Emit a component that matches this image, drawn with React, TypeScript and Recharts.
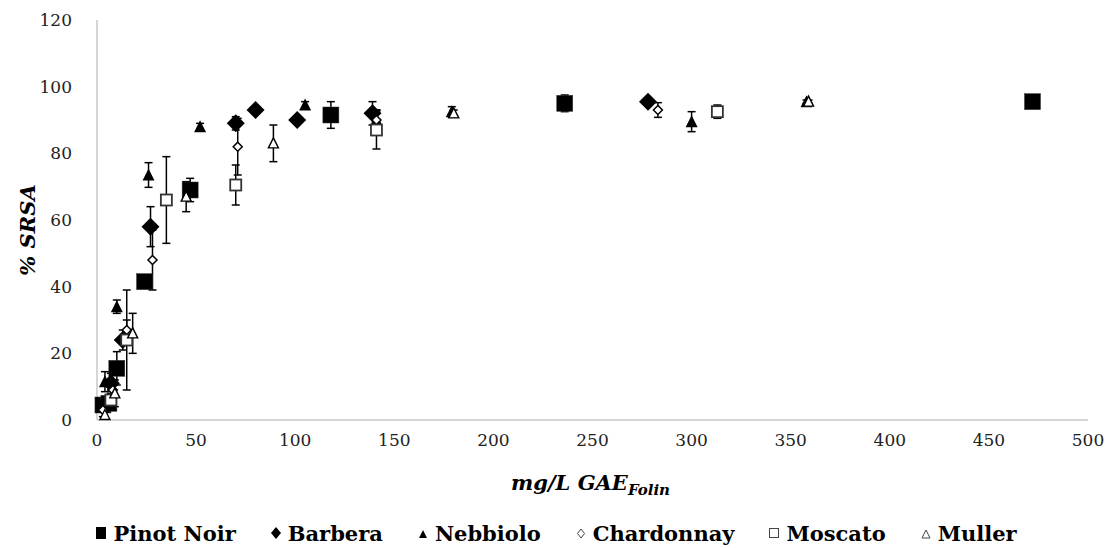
import React from "react";
import { ScatterChart, Scatter, XAxis, YAxis, ErrorBar, Legend } from "recharts";

const pinotX = [3, 6, 10, 24, 47, 118, 236, 472];
const pinotY = [4.5, 5, 15.5, 41.5, 69, 91.5, 95, 95.5];
const pinotErr = [2, 2, 5, 1.7, 3.5, 4, 2.5, 0.5];

const barberaX = [5, 7, 13, 27, 70, 80, 101, 139, 278];
const barberaY = [5, 11, 24, 58, 89, 93, 90, 92, 95.5];
const barberaErr = [2, 3, 3, 6, 2, 0, 0, 3.5, 1];

const nebbioloX = [4, 10, 26, 52, 105, 141, 179, 300, 358];
const nebbioloY = [11.5, 34, 73.5, 88, 94.5, 90, 92.5, 89.5, 95.5];
const nebbioloErr = [3, 2, 3.7, 1, 1, 3, 1.5, 3, 0.5];

const chardonnayX = [3, 8, 15, 28, 71, 141, 283];
const chardonnayY = [3, 9, 27, 48, 82, 90, 93];
const chardonnayErr = [2, 3, 3, 9, 8.5, 3, 2.2];

const moscatoX = [7, 15, 35, 70, 141, 313];
const moscatoY = [6, 24, 66, 70.5, 87, 92.5];
const moscatoErr = [3, 15, 13, 6, 5.7, 2];

const mullerX = [4, 9, 18, 45, 89, 180, 359];
const mullerY = [1.5, 8, 26, 67, 83, 92, 95.5];
const mullerErr = [1, 4, 6, 4.5, 5.5, 1, 0.5];

const xTicks = [0, 50, 100, 150, 200, 250, 300, 350, 400, 450, 500];
const yTicks = [0, 20, 40, 60, 80, 100, 120];

const zip = (xs: number[], ys: number[], es: number[]) =>
  xs.map((x, i) => ({ x, y: ys[i], err: es[i] }));

const FONT = "'DejaVu Serif', serif";

const Square = (p: any) => {
  const s = 16;
  return <rect x={p.cx - s / 2} y={p.cy - s / 2} width={s} height={s} fill="#000" stroke="#333" strokeWidth={0.5} />;
};
const Diamond = (p: any) => {
  const r = 9;
  return <polygon points={`${p.cx},${p.cy - r} ${p.cx + r},${p.cy} ${p.cx},${p.cy + r} ${p.cx - r},${p.cy}`} fill="#000" />;
};
const Tri = (p: any) => {
  const w = 6, h = 11;
  return <polygon points={`${p.cx},${p.cy - h / 2 - 1} ${p.cx + w},${p.cy + h / 2} ${p.cx - w},${p.cy + h / 2}`} fill="#000" />;
};
const SmallDiamond = (p: any) => {
  const r = 4.5;
  return <polygon points={`${p.cx},${p.cy - r} ${p.cx + r},${p.cy} ${p.cx},${p.cy + r} ${p.cx - r},${p.cy}`} fill="#fff" stroke="#000" strokeWidth={1.5} />;
};
const OpenSquare = (p: any) => {
  const s = 11;
  return <rect x={p.cx - s / 2} y={p.cy - s / 2} width={s} height={s} fill="#fff" stroke="#333" strokeWidth={1.8} />;
};
const OpenTri = (p: any) => {
  const w = 5, h = 9;
  return <polygon points={`${p.cx},${p.cy - h / 2 - 1} ${p.cx + w},${p.cy + h / 2} ${p.cx - w},${p.cy + h / 2}`} fill="#fff" stroke="#000" strokeWidth={1.4} />;
};

const legendItems = [
  { name: "Pinot Noir", icon: <rect x={1} y={1} width={10} height={12} fill="#000" /> },
  { name: "Barbera", icon: <polygon points="6,1 11,7 6,13 1,7" fill="#000" /> },
  { name: "Nebbiolo", icon: <polygon points="6,4 10,12 2,12" fill="#000" /> },
  { name: "Chardonnay", icon: <polygon points="6,3 9.5,7.5 6,12 2.5,7.5" fill="#fff" stroke="#444" strokeWidth={1} /> },
  { name: "Moscato", icon: <rect x={1.5} y={2.5} width={9} height={9} fill="#fff" stroke="#444" strokeWidth={1} /> },
  { name: "Muller", icon: <polygon points="6,4 10,12 2,12" fill="#fff" stroke="#444" strokeWidth={1} /> },
];

const LegendContent = () => (
  <div style={{ display: "flex", justifyContent: "center", alignItems: "center", paddingLeft: 58, fontFamily: FONT, fontWeight: "bold", fontSize: 21, color: "#000", height: 30 }}>
    {legendItems.map((it) => (
      <div key={it.name} style={{ display: "flex", alignItems: "center", marginRight: 34 }}>
        <svg width={12} height={14} style={{ marginRight: 6 }}>{it.icon}</svg>
        <span>{it.name}</span>
      </div>
    ))}
  </div>
);

const XLabel = (props: any) => {
  const vb = props.viewBox;
  const cx = vb.x + vb.width / 2 - 2;
  return (
    <text x={cx} y={vb.y + 70} textAnchor="middle" fontFamily={FONT} fontWeight="bold" fontStyle="italic" fontSize={21} fill="#000">
      mg/L GAE<tspan fontSize={15} dy={5}>Folin</tspan>
    </text>
  );
};

const YLabel = (props: any) => {
  const vb = props.viewBox;
  const cy = vb.y + vb.height / 2 + 10;
  return (
    <text x={29} y={cy} transform={`rotate(-90, 29, ${cy})`} textAnchor="middle" fontFamily={FONT} fontWeight="bold" fontStyle="italic" fontSize={21} fill="#000" dominantBaseline="middle">
      %  SRSA
    </text>
  );
};

const series = [
  { name: "Pinot Noir", data: zip(pinotX, pinotY, pinotErr), shape: Square },
  { name: "Barbera", data: zip(barberaX, barberaY, barberaErr), shape: Diamond },
  { name: "Nebbiolo", data: zip(nebbioloX, nebbioloY, nebbioloErr), shape: Tri },
  { name: "Chardonnay", data: zip(chardonnayX, chardonnayY, chardonnayErr), shape: SmallDiamond },
  { name: "Moscato", data: zip(moscatoX, moscatoY, moscatoErr), shape: OpenSquare },
  { name: "Muller", data: zip(mullerX, mullerY, mullerErr), shape: OpenTri },
];

export default function App() {
  return (
    <div style={{ position: "absolute", left: 0, top: 0, background: "#fff" }}>
      <ScatterChart width={1117} height={548} margin={{ top: 20, right: 29, left: 0, bottom: 0 }}>
        <XAxis
          type="number"
          dataKey="x"
          domain={[0, 500]}
          ticks={xTicks}
          interval={0}
          height={98}
          tickLine={false}
          tickSize={0}
          tickMargin={14}
          axisLine={{ stroke: "#c8c8c8", strokeWidth: 1.5 }}
          tick={{ fontFamily: FONT, fontSize: 17, fill: "#222" }}
          label={<XLabel />}
        />
        <YAxis
          type="number"
          dataKey="y"
          domain={[0, 120]}
          ticks={yTicks}
          interval={0}
          width={97}
          tickLine={false}
          tickSize={0}
          tickMargin={25}
          axisLine={{ stroke: "#c8c8c8", strokeWidth: 1.5 }}
          tick={{ fontFamily: FONT, fontSize: 17, fill: "#222" }}
          label={<YLabel />}
        />
        <Legend verticalAlign="bottom" height={30} content={<LegendContent />} />
        {series.map((s) => (
          <Scatter key={s.name} name={s.name} data={s.data} shape={s.shape} isAnimationActive={false}>
            <ErrorBar dataKey="err" direction="y" width={4} stroke="#000" strokeWidth={1.5} />
          </Scatter>
        ))}
      </ScatterChart>
    </div>
  );
}
